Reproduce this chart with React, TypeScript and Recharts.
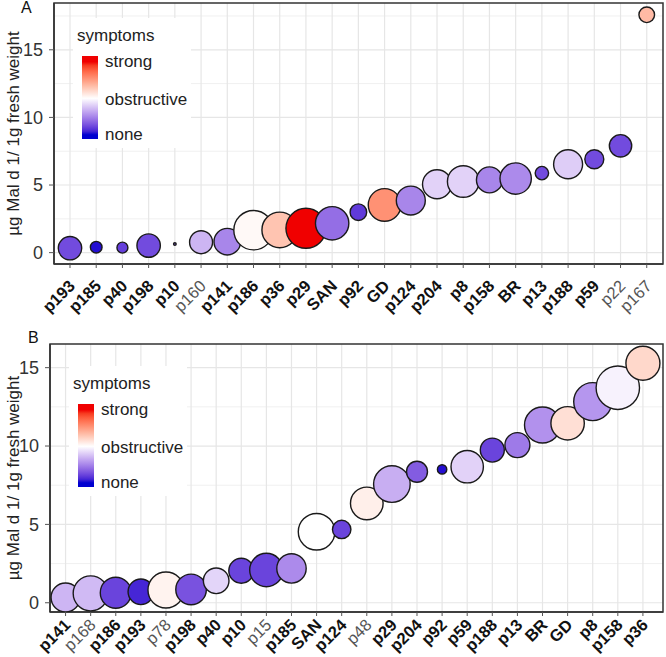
import React from "react";
import {
  ScatterChart,
  Scatter,
  XAxis,
  YAxis,
  ZAxis,
  CartesianGrid,
  ReferenceArea,
  Cell,
} from "recharts";

// Panel A
const samplesA = ["p193", "p185", "p40", "p198", "p10", "p160", "p141", "p186", "p36", "p29", "SAN", "p92", "GD", "p124", "p204", "p8", "p158", "BR", "p13", "p188", "p59", "p22", "p167"];
const malA = [0.33, 0.4, 0.37, 0.52, 0.64, 0.77, 0.81, 1.66, 1.68, 1.8, 2.17, 2.99, 3.53, 3.85, 5.06, 5.26, 5.38, 5.48, 5.88, 6.54, 6.91, 7.9, 17.59];
const symptomsA = [-0.75, -0.97, -0.8, -0.75, -0.7, -0.3, -0.5, 0.03, 0.3, 1.0, -0.6, -0.82, 0.55, -0.5, -0.18, -0.18, -0.5, -0.48, -0.75, -0.2, -0.75, -0.75, 0.35];
const weightA = [13.7, 3.4, 3.0, 13.7, 0.17, 13.2, 17.7, 38.8, 31.7, 40, 27.9, 6.9, 26.6, 21, 21, 25, 16.9, 24.6, 4.5, 21, 9, 12.5, 6.1];
const plainA = ["p160", "p22", "p167"];

// Panel B
const samplesB = ["p141", "p168", "p186", "p193", "p78", "p198", "p40", "p10", "p15", "p185", "SAN", "p124", "p48", "p29", "p204", "p92", "p59", "p188", "p13", "BR", "GD", "p8", "p158", "p36"];
const malB = [0.34, 0.6, 0.64, 0.7, 0.81, 0.85, 1.4, 2.04, 2.09, 2.19, 4.53, 4.68, 6.34, 7.57, 8.36, 8.51, 8.68, 9.74, 10.06, 11.34, 11.45, 12.83, 13.72, 15.28];
const symptomsB = [-0.3, -0.28, -0.78, -0.9, 0.06, -0.72, -0.17, -0.78, -0.78, -0.48, 0.0, -0.78, 0.08, -0.33, -0.68, -0.97, -0.18, -0.78, -0.55, -0.45, 0.16, -0.43, -0.05, 0.2];
const weightB = [21, 30.6, 24, 16.4, 32.4, 23.4, 16.4, 15.6, 27.9, 21.6, 33.5, 8.5, 26.6, 33.5, 11, 2.2, 26.2, 14.4, 15.6, 32.4, 27.9, 36.1, 47.1, 28.9];
const plainB = ["p168", "p78", "p15", "p48"];

const yTitle = "µg Mal d 1/ 1g fresh weight";
const FONT = "Arial, 'Liberation Sans', sans-serif";

// --- Lab colour interpolation (like ggplot's gradient2) ---
const LOW = "#0000D0";
const MID = "#FFFFFF";
const HIGH = "#F00000";

function hexToRgb(hex: string) {
  const n = parseInt(hex.slice(1), 16);
  return [(n >> 16) & 255, (n >> 8) & 255, n & 255];
}
function toLin(c: number) {
  c /= 255;
  return c <= 0.04045 ? c / 12.92 : Math.pow((c + 0.055) / 1.055, 2.4);
}
function fromLin(c: number) {
  const v = c <= 0.0031308 ? 12.92 * c : 1.055 * Math.pow(c, 1 / 2.4) - 0.055;
  return Math.max(0, Math.min(255, Math.round(v * 255)));
}
const WX = 0.95047, WY = 1, WZ = 1.08883;
function rgbToLab(hex: string) {
  const [r, g, b] = hexToRgb(hex).map(toLin);
  const x = (r * 0.4124 + g * 0.3576 + b * 0.1805) / WX;
  const y = (r * 0.2126 + g * 0.7152 + b * 0.0722) / WY;
  const z = (r * 0.0193 + g * 0.1192 + b * 0.9505) / WZ;
  const f = (t: number) => (t > 0.008856 ? Math.cbrt(t) : 7.787 * t + 16 / 116);
  const fx = f(x), fy = f(y), fz = f(z);
  return [116 * fy - 16, 500 * (fx - fy), 200 * (fy - fz)];
}
function labToRgb(L: number, a: number, bb: number) {
  const fy = (L + 16) / 116;
  const fx = fy + a / 500;
  const fz = fy - bb / 200;
  const inv = (t: number) => (t * t * t > 0.008856 ? t * t * t : (t - 16 / 116) / 7.787);
  const x = inv(fx) * WX, y = inv(fy) * WY, z = inv(fz) * WZ;
  const r = x * 3.2406 + y * -1.5372 + z * -0.4986;
  const g = x * -0.9689 + y * 1.8758 + z * 0.0415;
  const b = x * 0.0557 + y * -0.204 + z * 1.057;
  return `rgb(${fromLin(r)},${fromLin(g)},${fromLin(b)})`;
}
function symptomColor(s: number) {
  const v = Math.max(-1, Math.min(1, s));
  const [from, to, t] = v < 0 ? [LOW, MID, 1 + v] : [MID, HIGH, v];
  const a = rgbToLab(from), b = rgbToLab(to);
  return labToRgb(a[0] + (b[0] - a[0]) * t, a[1] + (b[1] - a[1]) * t, a[2] + (b[2] - a[2]) * t);
}

function legendGradient() {
  const stops: string[] = [];
  for (let i = 0; i <= 20; i++) {
    const s = 1 - i / 10;
    const pct = 7 + ((1 - s) / 2) * 88;
    stops.push(`${symptomColor(s)} ${pct.toFixed(1)}%`);
  }
  return `linear-gradient(to bottom, ${symptomColor(1)} 0%, ${stops.join(", ")}, ${symptomColor(-1)} 100%)`;
}

function SymptomLegend({ left, top }: { left: number; top: number }) {
  const label = { position: "absolute" as const, left: 28, fontSize: 17, lineHeight: "17px", color: "#222", whiteSpace: "nowrap" as const };
  return (
    <div style={{ position: "absolute", left, top, width: 118, height: 130, background: "#fff", fontFamily: FONT }}>
      <div style={{ ...label, left: 4, top: 9 }}>symptoms</div>
      <div style={{ position: "absolute", left: 9, top: 38, width: 16, height: 83, background: legendGradient() }} />
      <div style={{ ...label, left: 32, top: 35 }}>strong</div>
      <div style={{ ...label, left: 32, top: 73 }}>obstructive</div>
      <div style={{ ...label, left: 32, top: 108 }}>none</div>
    </div>
  );
}

function YTitle({ viewBox }: any) {
  const cy = viewBox.y + viewBox.height / 2;
  const x = 19;
  return (
    <text x={x} y={cy} transform={`rotate(-90 ${x} ${cy})`} textAnchor="middle" fontSize={17} fill="#222" fontFamily={FONT}>
      {yTitle}
    </text>
  );
}

interface PanelProps {
  samples: string[];
  values: number[];
  symptoms: number[];
  weights: number[];
  plain: string[];
  height: number;
  marginTop: number;
  axisWidth: number;
  xAxisHeight: number;
  labelDrop: number;
  xDomain: [number, number];
  yDomain: [number, number];
  yTicks: number[];
  minorY: number[];
}

function Panel(p: PanelProps) {
  const data = p.samples.map((name, i) => ({
    x: i + 1,
    y: p.values[i],
    z: p.weights[i],
    s: p.symptoms[i],
    name,
  }));
  const xTicks = p.samples.map((_, i) => i + 1);

  const renderTick = (props: any) => {
    const { x, y, payload } = props;
    const name = p.samples[payload.value - 1];
    const isPlain = p.plain.includes(name);
    const tx = x + 6;
    const ty = y + p.labelDrop;
    return (
      <text
        x={tx}
        y={ty}
        transform={`rotate(-45 ${tx} ${ty})`}
        textAnchor="end"
        fontSize={16.5}
        fontWeight={isPlain ? 400 : 700}
        fill={isPlain ? "#555" : "#111"}
        fontFamily={FONT}
      >
        {name}
      </text>
    );
  };

  return (
    <ScatterChart width={666} height={p.height} margin={{ top: p.marginTop, right: 3, bottom: 0, left: 0 }}>
      <CartesianGrid stroke="#F0F0F0" strokeWidth={1} vertical={false} horizontalValues={p.minorY} />
      <CartesianGrid stroke="#E6E6E6" strokeWidth={1.2} horizontalValues={p.yTicks} verticalValues={xTicks} />
      <XAxis
        type="number"
        dataKey="x"
        domain={p.xDomain}
        ticks={xTicks}
        interval={0}
        height={p.xAxisHeight}
        tickSize={4}
        tickMargin={0}
        tickLine={{ stroke: "#555" }}
        axisLine={{ stroke: "#333", strokeWidth: 1.5 }}
        tick={renderTick}
        allowDataOverflow
      />
      <YAxis
        type="number"
        dataKey="y"
        domain={p.yDomain}
        ticks={p.yTicks}
        width={p.axisWidth}
        tickSize={5}
        tickMargin={6}
        tickLine={{ stroke: "#555" }}
        axisLine={{ stroke: "#333", strokeWidth: 1.5 }}
        tick={{ fontSize: 18, fill: "#333", fontFamily: FONT }}
        label={<YTitle />}
        allowDataOverflow
      />
      <ZAxis type="number" dataKey="z" domain={[0, 50]} range={[0, 500 * Math.PI]} />
      <Scatter data={data} stroke="#1a1a1a" strokeWidth={1.4} isAnimationActive={false}>
        {data.map((d) => (
          <Cell key={d.name} fill={symptomColor(d.s)} />
        ))}
      </Scatter>
      <ReferenceArea
        x1={p.xDomain[0]}
        x2={p.xDomain[1]}
        y1={p.yDomain[0]}
        y2={p.yDomain[1]}
        fill="none"
        stroke="#333"
        strokeWidth={1.5}
        ifOverflow="visible"
      />
    </ScatterChart>
  );
}

export default function App() {
  return (
    <div style={{ position: "absolute", left: 0, top: 0, width: 666, height: 657, background: "#fff", fontFamily: FONT }}>
      <div style={{ position: "absolute", left: 0, top: 0 }}>
        <Panel
          samples={samplesA}
          values={malA}
          symptoms={symptomsA}
          weights={weightA}
          plain={plainA}
          height={330}
          marginTop={3}
          axisWidth={54}
          xAxisHeight={66}
          labelDrop={19}
          xDomain={[0.39, 23.62]}
          yDomain={[-0.84, 18.46]}
          yTicks={[0, 5, 10, 15]}
          minorY={[2.5, 7.5, 12.5, 17.5]}
        />
      </div>
      <div style={{ position: "absolute", left: 0, top: 330 }}>
        <Panel
          samples={samplesB}
          values={malB}
          symptoms={symptomsB}
          weights={weightB}
          plain={plainB}
          height={327}
          marginTop={14}
          axisWidth={50}
          xAxisHeight={45}
          labelDrop={10}
          xDomain={[0.38, 24.8]}
          yDomain={[-0.59, 16.51]}
          yTicks={[0, 5, 10, 15]}
          minorY={[2.5, 7.5, 12.5]}
        />
      </div>
      <SymptomLegend left={73} top={18} />
      <SymptomLegend left={69} top={366} />
      <div style={{ position: "absolute", left: 21, top: 0, fontSize: 16, lineHeight: "16px", color: "#111" }}>A</div>
      <div style={{ position: "absolute", left: 28, top: 330, fontSize: 16, lineHeight: "16px", color: "#111" }}>B</div>
    </div>
  );
}
